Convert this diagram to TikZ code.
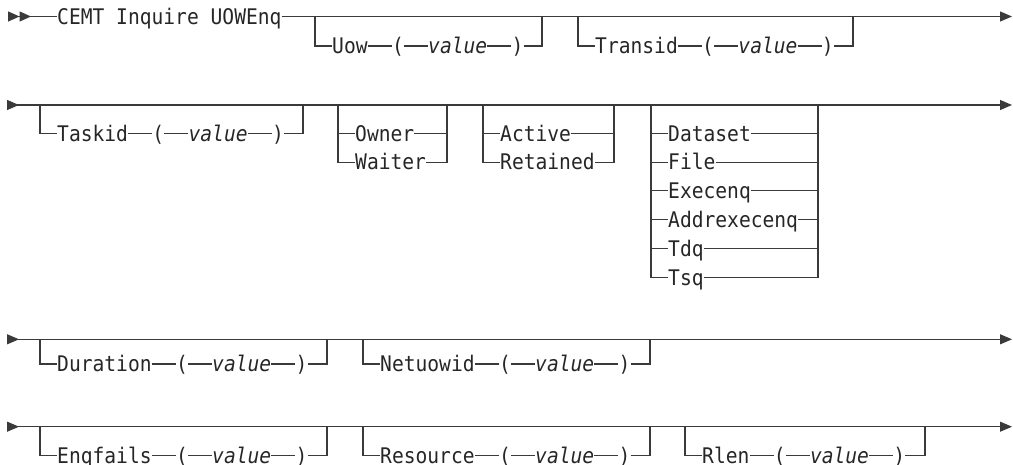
\documentclass[tikz,border=0pt]{standalone}
\usepackage{fontspec}
\setmainfont{DejaVu Sans Mono}[ItalicFont={DejaVu Sans Mono Oblique}, FakeStretch=0.912]
\usetikzlibrary{arrows.meta,positioning}
\definecolor{railgray}{HTML}{3A3A3A}
\definecolor{textgray}{HTML}{262626}

\begin{document}
\begin{tikzpicture}[
    x=1pt, y=-1pt,
    rail/.style={draw=railgray, line width=1.1pt},
    kw/.style={inner sep=0pt, text height=17pt, text depth=1.3pt, text=textgray,
        font=\fontsize{21.5}{22}\selectfont},
    var/.style={kw, font=\fontsize{21.5}{22}\selectfont\itshape},
    node distance=24pt]
    \useasboundingbox (0,0) rectangle (1013,465);

    % row 1
    \coordinate (start1) at (8,16.5);
    \coordinate (end1) at (1012,16.5);
    \node[kw, anchor=west] (cemt) at (57,16.5) {CEMT Inquire UOWEnq};
    \draw[rail, {Triangle[reversed,length=11.5pt,width=10pt] Triangle[reversed,length=11.5pt,width=10pt]}-]
        (start1) -- (cemt);
    \draw[rail, -{Triangle[length=12pt,width=10pt]}] (cemt) -- (end1);

    % rows 2 to 4
    \foreach \r/\y in {2/105, 3/339.3, 4/426.7} {
        \coordinate (start\r) at (7,\y);
        \coordinate (end\r) at (1012,\y);
        \draw[rail, {Triangle[reversed,length=12pt,width=10pt]}-{Triangle[length=12pt,width=10pt]}]
            (start\r) -- (end\r);
    }

    % optional keyword(value) branches
    \foreach \nm/\kw/\xl/\xr/\ym/\yb in {
        uow/Uow/315/542/16.5/46, transid/Transid/578/853/16.5/46,
        taskid/Taskid/40/303/105/133.3,
        duration/Duration/40/327/339.3/364, netuowid/Netuowid/363/650/339.3/364,
        enqfails/Enqfails/40/327/426.7/455.5, resource/Resource/363/650/426.7/455.5,
        rlen/Rlen/685/925/426.7/455.5} {
        \coordinate (\nm L) at (\xl,\ym);
        \coordinate (\nm R) at (\xr,\ym);
        \node[kw, anchor=west] (\nm) at (\xl+17,\yb) {\kw};
        \node[kw, right=of \nm] (\nm lp) {(};
        \node[var, right=of \nm lp] (\nm val) {value};
        \node[kw, right=of \nm val] (\nm rp) {)};
        \draw[rail] (\nm L) |- (\nm) -- (\nm lp) -- (\nm val) -- (\nm rp) -| (\nm R);
    }

    % owner / waiter
    \coordinate (ownL) at (338,105);
    \coordinate (ownR) at (447,105);
    \foreach \nm/\kw [count=\i] in {owner/Owner, waiter/Waiter}
        \node[kw, anchor=west] (\nm) at (355,{133.3+28.8*(\i-1)}) {\kw};
    \draw[rail] (ownL |- owner) -- (owner) -- (owner -| ownR);
    \draw[rail] (ownL) |- (waiter) -| (ownR);

    % active / retained
    \coordinate (actL) at (483,105);
    \coordinate (actR) at (614,105);
    \foreach \nm/\kw [count=\i] in {active/Active, retained/Retained}
        \node[kw, anchor=west] (\nm) at (500,{133.3+28.8*(\i-1)}) {\kw};
    \draw[rail] (actL |- active) -- (active) -- (active -| actR);
    \draw[rail] (actL) |- (retained) -| (actR);

    % resource types
    \coordinate (dsL) at (651,105);
    \coordinate (dsR) at (818,105);
    \foreach \nm/\kw [count=\i] in {dataset/Dataset, file/File, execenq/Execenq,
        addrexecenq/Addrexecenq, tdq/Tdq, tsq/Tsq} {
        \node[kw, anchor=west] (\nm) at (668,{133.3+28.8*(\i-1)}) {\kw};
        \draw[rail] (dsL |- \nm) -- (\nm) -- (\nm -| dsR);
    }
    \draw[rail] (dsL) |- (tsq) -| (dsR);
\end{tikzpicture}
\end{document}
